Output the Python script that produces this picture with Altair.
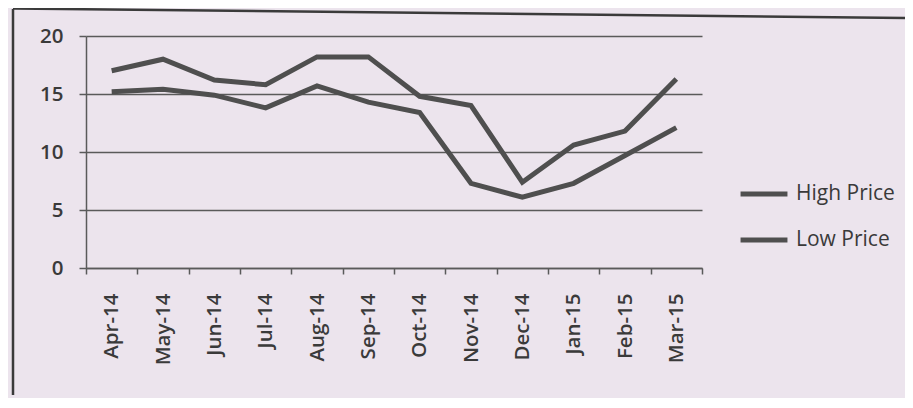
import altair as alt
import pandas as pd

# ---- data ----
months = ["Apr-14", "May-14", "Jun-14", "Jul-14", "Aug-14", "Sep-14",
          "Oct-14", "Nov-14", "Dec-14", "Jan-15", "Feb-15", "Mar-15"]
high_price = [17.0, 18.0, 16.2, 15.8, 18.2, 18.2, 14.8, 14.0, 7.4, 10.6, 11.8, 16.3]
low_price = [15.2, 15.4, 14.9, 13.8, 15.7, 14.3, 13.4, 7.3, 6.1, 7.3, 9.7, 12.1]
series_names = ["High Price", "Low Price"]
y_ticks = [0, 5, 10, 15, 20]

df = pd.DataFrame({
    "month": months * 2,
    "value": high_price + low_price,
    "series": [series_names[0]] * len(months) + [series_names[1]] * len(months),
})

FONT = "Open Sans"
INK = "#3a3a3a"
LINE = "#4f4f4f"
GRID = "#5a5a5a"
BG = "#ece4ed"

W, H = 616, 232

lines = alt.Chart(df).mark_line(strokeWidth=5).encode(
    x=alt.X(
        "month:N", sort=months, bandPosition=0.5,
        scale=alt.Scale(type="band", paddingInner=0, paddingOuter=0),
        axis=alt.Axis(
            title=None, labelAngle=-90, tickBand="extent",
            labelFont=FONT, labelFontSize=20.5, labelFontWeight=600, labelColor=INK,
            labelPadding=19, domainColor=GRID, domainWidth=1.5,
            tickColor=GRID, tickWidth=1.5, tickSize=6, grid=False,
        ),
    ),
    y=alt.Y(
        "value:Q",
        scale=alt.Scale(domain=[0, 20], nice=False, zero=True),
        axis=alt.Axis(
            title=None, values=y_ticks, grid=True, gridColor=GRID, gridWidth=1.4,
            labelFont=FONT, labelFontSize=20.5, labelFontWeight=600, labelColor=INK,
            labelPadding=16, domainColor=GRID, domainWidth=1.5,
            tickColor=GRID, tickWidth=1.5, tickSize=7,
        ),
    ),
    color=alt.Color(
        "series:N",
        scale=alt.Scale(domain=series_names, range=[LINE, LINE]),
        legend=alt.Legend(
            title=None, orient="none", legendX=652, legendY=132,
            symbolType="stroke", symbolSize=2200, symbolStrokeWidth=5,
            labelFont=FONT, labelFontSize=21, labelColor=INK, labelOffset=6,
            rowPadding=10, padding=0,
        ),
    ),
)

frame_src = pd.DataFrame({"k": [0]})
left_edge = alt.Chart(frame_src).mark_rule(color=INK, strokeWidth=2.5).encode(
    x=alt.value(-73), y=alt.value(-27), y2=alt.value(359)
)
top_edge = alt.Chart(frame_src).mark_rule(color=INK, strokeWidth=2.5).encode(
    x=alt.value(-73), x2=alt.value(827), y=alt.value(-27.5), y2=alt.value(-18)
)

chart = alt.layer(left_edge, top_edge, lines).properties(
    width=W, height=H,
    padding={"left": 78, "top": 28, "right": 203, "bottom": 130},
    autosize=alt.AutoSizeParams(type="none"),
    background=BG,
).configure_view(stroke=None)

chart.save("out.html", embed_options={"renderer": "svg", "actions": False})
